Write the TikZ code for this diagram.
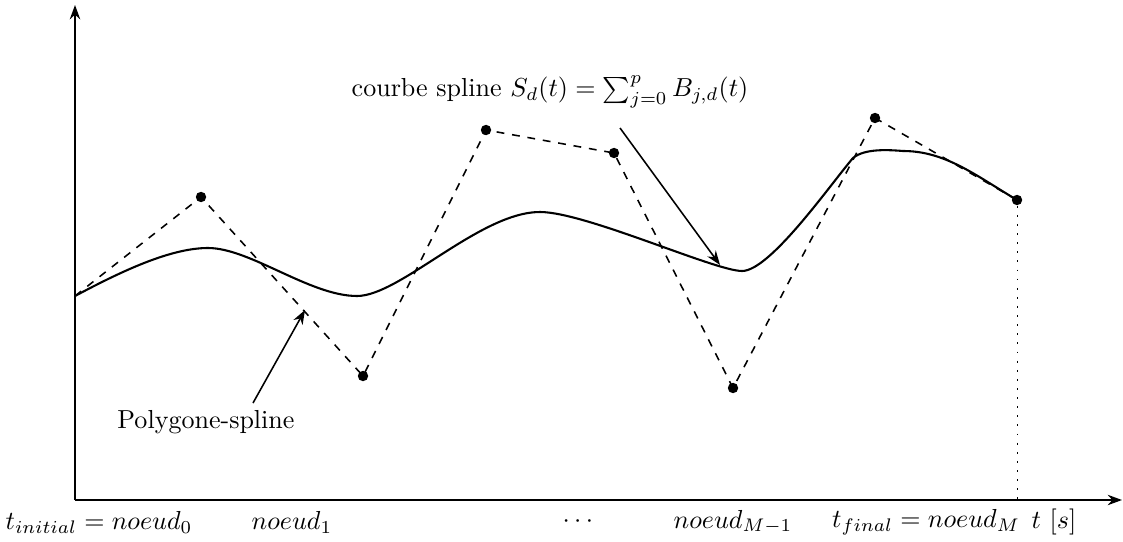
\documentclass[tikz,border=0pt]{standalone}
\usepackage{amsmath}
\usepackage{tikz}
\usetikzlibrary{arrows.meta}
\tikzset{
  ctrl/.style={circle,fill=black,inner sep=0pt,minimum size=4pt},
  poly/.style={dashed,semithick},
  axe/.style={-{Stealth[length=5.5pt,width=4pt]},thick},
  fleche/.style={-{Stealth[length=5.5pt,width=4pt]},semithick}
}

\begin{document}
\begin{tikzpicture}[x=0.384pt,y=0.384pt]
\useasboundingbox (-75,-41) rectangle (1048,500);
% axes
\coordinate (O) at (0,0);
\coordinate (xmax) at (1047,0);
\coordinate (ymax) at (0,495);
\draw[axe] (O) -- (xmax);
\draw[axe] (O) -- (ymax);
% points de controle
\coordinate (p0) at (0,204);
\node[ctrl] (p1) at (126,303) {};
\node[ctrl] (p2) at (288,124) {};
\node[ctrl] (p3) at (411,370) {};
\node[ctrl] (p4) at (539,347) {};
\node[ctrl] (p5) at (658,112) {};
\node[ctrl] (p6) at (800,382) {};
\node[ctrl] (p7) at (942,300) {};
\coordinate (f7) at (942,0);
% polygone
\draw[poly] (p0) -- (p1.center) -- (p2.center) -- (p3.center) -- (p4.center)
  -- (p5.center) -- (p6.center) -- (p7.center);
\draw[dash pattern=on 0.7pt off 2.8pt] (p7) -- (f7);
% courbe spline
\draw[thick] (p0) .. controls (45,228) and (95,252) .. (133,252)
  .. controls (175,252) and (235,204) .. (282,204)
  .. controls (325,204) and (405,288) .. (465,288)
  .. controls (510,288) and (640,229) .. (667,229)
  .. controls (695,229) and (755,315) .. (778,342)
  .. controls (790,352) and (815,350) .. (828,349)
  .. controls (870,349) and (900,325) .. (p7.center);
% etiquettes
\node (lcourbe) at (475,408) {courbe spline $S_d(t)=\sum_{j=0}^{p}B_{j,d}(t)$};
\coordinate (acourbe) at (645,235);
\draw[fleche] (545,372) -- (acourbe);
\node (lpoly) at (131,78) {Polygone-spline};
\coordinate (apoly) at (230,190);
\draw[fleche] (178,97) -- (apoly);
% noeuds
\node (n0) at (24,-22) {$t_{initial}=noeud_0$};
\node (n1) at (217,-22) {$noeud_1$};
\node (nd) at (505,-22) {$\cdots$};
\node (nm1) at (658,-22) {$noeud_{M-1}$};
\node (nm) at (851,-22) {$t_{final}=noeud_M$};
\node (nt) at (979,-22) {$t\ [s]$};
\end{tikzpicture}
\end{document}
